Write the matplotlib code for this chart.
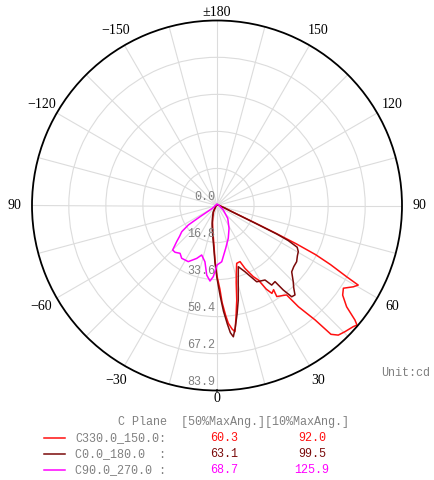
import matplotlib
matplotlib.use('Agg')
import matplotlib.pyplot as plt
import numpy as np

# 配光曲线数据 (角度: 度, 光强: cd)
red_ang = [-180, -90, -45, -30, -20, -15, -10, -7, -4, -2, 0, 2, 3, 4.5, 5.5, 7, 8.1, 9.5,
           11.8, 14, 16.5, 18.8, 22.3, 24, 27, 29, 30.5, 32, 33.9, 33.3, 36, 37.9, 38.8,
           40.6, 41.5, 43.1, 45.4, 48.4, 49.5, 50.3, 52, 54.5, 56.8, 59.2, 60.6, 61.2,
           62.5, 63.5, 64.2, 64.7, 65.3, 66.2, 68, 72, 80, 90, 120, 180]
red_val = [0.3, 0.3, 1, 3, 5.5, 7.8, 11, 14, 19, 25, 32, 38, 44, 50, 53.7, 56.5, 57.8, 52,
           43.8, 36, 31, 27.7, 27.5, 31.2, 36.2, 38.6, 44, 47, 46, 49.4, 50.5, 51.4, 58.9,
           68.3, 78, 80.5, 81.5, 82.7, 83.5, 81.3, 74.6, 70, 68.5, 72, 73.5, 67.1,
           58, 50, 40, 30, 20, 12, 7, 4, 2, 1, 0.5, 0.3]

dred_ang = [-180, -90, -45, -30, -20, -15, -10, -7, -4, -2, 0, 2, 3.5, 5, 6, 7.1, 8.5, 10.5,
            12.7, 15.5, 19.2, 22.9, 27.5, 32.8, 34.5, 37.3, 38.1, 39.3, 41.1, 43, 45, 48.4,
            51.5, 54.8, 58, 60.4, 62.5, 63.8, 64.5, 65.1, 66, 68, 72, 80, 90, 120, 180]
dred_val = [0.3, 0.3, 1, 3.5, 6, 8.5, 12, 15, 20, 26, 33, 41, 48, 54, 58, 60, 56, 50,
            43.9, 36, 29.4, 32.6, 39, 40.2, 43.8, 43.4, 48.7, 53.5, 53.8, 51, 48.9, 45.3,
            44.5, 44.2, 43, 42.4, 41, 36, 30, 20, 12, 6, 3.5, 1.5, 1, 0.5, 0.3]

mag_ang = [-180, -90, -65, -59, -57.3, -56.6, -55.8, -53.4, -50.5, -48.1, -44.9, -41.9,
           -37.7, -33.8, -27.1, -21, -17.2, -12.1, -8.4, -5.3, -3, 0, 4.8, 11.5, 19, 27.8,
           39.9, 54.5, 70, 90, 135, 180]
mag_val = [0.5, 0.8, 1.5, 2.5, 3.8, 9.2, 15.7, 19.9, 22, 24.6, 28.5, 28.5,
           27.4, 28.8, 28.6, 25.7, 23.5, 26.1, 31.9, 34.4, 32.3, 27, 25.6, 19.8, 15.7, 11.7,
           7.6, 3.5, 1.5, 1, 0.6, 0.5]

r_ticks = [0.0, 16.8, 33.6, 50.4, 67.2, 83.9]
r_labels = ['0.0', '16.8', '33.6', '50.4', '67.2', '83.9']

theta_ticks = [0, 30, 60, 90, 120, 150, 180, 210, 240, 270, 300, 330]
theta_labels = ['0', '30', '60', '90', '120', '150', '±180', '−150', '−120', '90', '−60', '−30']

planes = ['C330.0_150.0:', 'C0.0_180.0  :', 'C90.0_270.0 :']
ang50 = ['60.3', '63.1', '68.7']
ang10 = ['92.0', '99.5', '125.9']
colors = ['#ff1010', '#7a0a0a', '#ff00ff']

mono = 'Liberation Mono'
serif = 'Liberation Serif'

fig = plt.figure(figsize=(4.35, 4.8), dpi=100)
ax = fig.add_axes([32 / 435, 1 - 390.5 / 480, 370 / 435, 370 / 480], projection='polar')
ax.set_theta_zero_location('S')
ax.set_theta_direction(1)
ax.set_ylim(0, r_ticks[-1])
ax.set_rticks(r_ticks[1:-1])
ax.set_yticklabels([])

# 每15度一条网格线, 标签自己放
grid_angles = np.arange(0, 360, 15)
ax.set_thetagrids(grid_angles, labels=[''] * len(grid_angles))
ax.grid(color='#dcdcdc', lw=0.8)
ax.spines['polar'].set_color('black')
ax.spines['polar'].set_linewidth(1.3)

for a, lab in zip(theta_ticks, theta_labels):
    t = np.deg2rad(a)
    off = (8.5 + 9 * min(1, 2 * abs(np.sin(t)))) * 0.72  # px -> pt
    ax.annotate(lab, xy=(t, r_ticks[-1]), xytext=(np.sin(t) * off, -np.cos(t) * off),
                textcoords='offset points', ha='center', va='center',
                fontsize=10, family=serif, color='black', annotation_clip=False)

# 曲线
for ang, val, c in [(red_ang, red_val, colors[0]),
                    (dred_ang, dred_val, colors[1]),
                    (mag_ang, mag_val, colors[2])]:
    ax.plot(np.deg2rad(ang), val, color=c, lw=1.1)

# 径向标签
for rv, lab in zip(r_ticks, r_labels):
    ax.annotate(lab, xy=(0, rv), xytext=(-1.5, 2), textcoords='offset points',
                ha='right', va='bottom', color='#808080', fontsize=8.5, family=mono)

fig.text(430 / 435, 1 - 373 / 480, 'Unit:cd', ha='right', va='center',
         color='#808080', fontsize=8.5, family=mono)

# 表格
fig.text(118 / 435, 1 - 422 / 480, 'C Plane  [50%MaxAng.][10%MaxAng.]', ha='left',
         va='center', color='#808080', fontsize=8.5, family=mono)
rows_y = [438, 454, 470]
for i in range(3):
    y = 1 - rows_y[i] / 480
    fig.add_artist(plt.Line2D([44 / 435, 65 / 435], [y, y], color=colors[i], lw=1.1))
    fig.text(75 / 435, y, planes[i], ha='left', va='center', color='#808080',
             fontsize=8.5, family=mono)
    fig.text(224 / 435, y, ang50[i], ha='center', va='center', color=colors[i],
             fontsize=8.5, family=mono)
    fig.text(312 / 435, y, ang10[i], ha='center', va='center', color=colors[i],
             fontsize=8.5, family=mono)

fig.savefig('out.png', dpi=100, facecolor='white')
